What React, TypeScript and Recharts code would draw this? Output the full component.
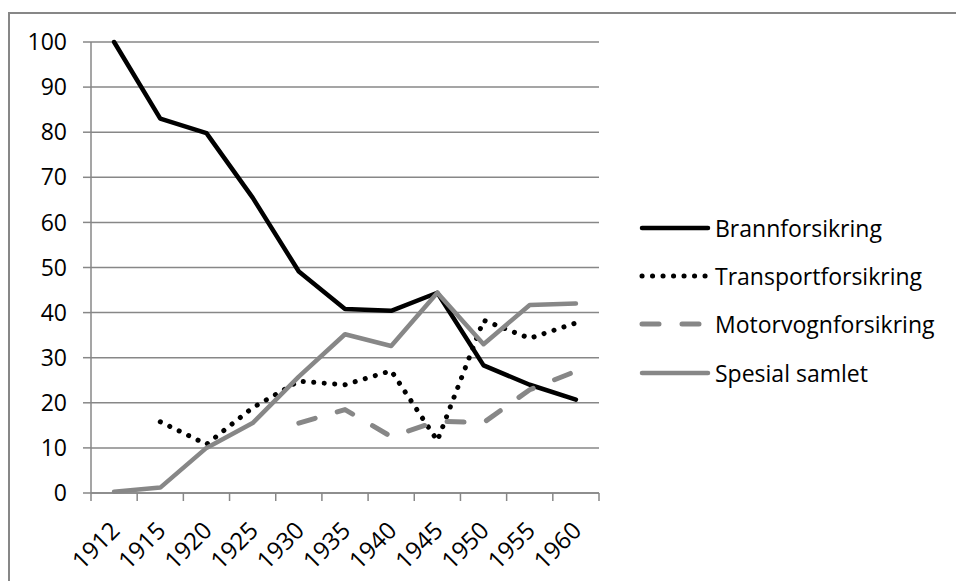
import React from "react";
import { LineChart, Line, XAxis, YAxis, CartesianGrid } from "recharts";

// Categories and series
const YEARS = ["1912", "1915", "1920", "1925", "1930", "1935", "1940", "1945", "1950", "1955", "1960"];
const BRANN = [100, 83, 79.8, 65.5, 49.1, 40.8, 40.4, 44.4, 28.3, 24, 20.7];
const TRANSPORT = [null, 15.8, 10.8, 18.9, 24.8, 24.0, 27.1, 11.6, 38.3, 34.3, 37.7];
const MOTOR = [null, null, null, null, 15.5, 18.5, 12.5, 15.9, 15.6, 22.9, 27.0];
const SPESIAL = [0.3, 1.2, 10, 15.5, 25.8, 35.2, 32.6, 44.4, 33, 41.7, 42];
const Y_TICKS = [0, 10, 20, 30, 40, 50, 60, 70, 80, 90, 100];

const data = YEARS.map((year, i) => ({
  year,
  brann: BRANN[i],
  transport: TRANSPORT[i],
  motor: MOTOR[i],
  spesial: SPESIAL[i],
}));

const FONT = "'Open Sans', sans-serif";
const GRID = "#878787";
const GREY = "#878787";

const W = 956;
const H = 581;
const MARGIN = { top: 42, right: 357, bottom: 8, left: 0 };
const Y_AXIS_W = 91;
const X_AXIS_H = 80;
const PLOT_LEFT = MARGIN.left + Y_AXIS_W;
const PLOT_RIGHT = W - MARGIN.right;
const PLOT_BOTTOM = H - MARGIN.bottom - X_AXIS_H;
const BAND = (PLOT_RIGHT - PLOT_LEFT) / YEARS.length;

const SERIES = [
  { key: "brann", name: "Brannforsikring", color: "#000", width: 4.5, dash: undefined as string | undefined },
  { key: "transport", name: "Transportforsikring", color: "#000", width: 5, dash: "0.1 10.4" },
  { key: "motor", name: "Motorvognforsikring", color: GREY, width: 5, dash: "17 23" },
  { key: "spesial", name: "Spesial samlet", color: GREY, width: 4.5, dash: undefined },
];

// Category ticks sit on the band boundaries; labels are rotated under the band centre
const XTick = (props: any) => {
  const { x, payload } = props;
  const half = BAND / 2;
  const isLast = payload.value === YEARS[YEARS.length - 1];
  const tx = x + 7;
  const ty = PLOT_BOTTOM + 39;
  return (
    <g>
      <line x1={x - half} x2={x - half} y1={PLOT_BOTTOM} y2={PLOT_BOTTOM + 8} stroke={GRID} strokeWidth={1.5} />
      {isLast && (
        <line x1={x + half} x2={x + half} y1={PLOT_BOTTOM} y2={PLOT_BOTTOM + 8} stroke={GRID} strokeWidth={1.5} />
      )}
      <text
        x={tx}
        y={ty}
        transform={`rotate(-45, ${tx}, ${ty})`}
        textAnchor="end"
        fill="#000"
        fontSize={24}
        fontFamily={FONT}
      >
        {payload.value}
      </text>
    </g>
  );
};

const LegendBox = () => (
  <div style={{ position: "absolute", left: 639, top: 204, fontFamily: FONT, fontSize: 23, color: "#000" }}>
    {SERIES.map((s) => (
      <div key={s.key} style={{ height: 48.2, display: "flex", alignItems: "center" }}>
        <svg width={76} height={12} style={{ display: "block" }}>
          <line
            x1={3}
            x2={69}
            y1={6}
            y2={6}
            stroke={s.color}
            strokeWidth={s.width}
            strokeDasharray={s.dash}
            strokeLinecap="round"
          />
        </svg>
        <span style={{ lineHeight: "24px", whiteSpace: "nowrap" }}>{s.name}</span>
      </div>
    ))}
  </div>
);

export default function App() {
  return (
    <div style={{ position: "absolute", left: 0, top: 0, width: W, height: H, background: "#fff", fontFamily: FONT }}>
      <div
        style={{
          position: "absolute",
          left: 8,
          top: 12,
          width: W - 8,
          height: H - 12,
          borderTop: `2px solid ${GRID}`,
          borderLeft: `2px solid ${GRID}`,
          boxSizing: "border-box",
        }}
      />
      <LineChart width={W} height={H} data={data} margin={MARGIN}>
        <CartesianGrid vertical={false} stroke={GRID} strokeWidth={1.5} />
        <XAxis
          dataKey="year"
          height={X_AXIS_H}
          interval={0}
          padding={{ left: BAND / 2, right: BAND / 2 }}
          tickLine={false}
          axisLine={{ stroke: GRID, strokeWidth: 1.5 }}
          tick={<XTick />}
        />
        <YAxis
          width={Y_AXIS_W}
          domain={[0, 100]}
          ticks={Y_TICKS}
          interval={0}
          tickSize={8}
          tickMargin={16}
          tickLine={{ stroke: GRID, strokeWidth: 1.5 }}
          axisLine={{ stroke: GRID, strokeWidth: 1.5 }}
          tick={{ fill: "#000", fontSize: 23, fontFamily: FONT }}
        />
        {SERIES.map((s) => (
          <Line
            key={s.key}
            type="linear"
            dataKey={s.key}
            name={s.name}
            stroke={s.color}
            strokeWidth={s.width}
            strokeDasharray={s.dash}
            strokeLinecap="round"
            strokeLinejoin="round"
            dot={false}
            activeDot={false}
            isAnimationActive={false}
          />
        ))}
      </LineChart>
      <LegendBox />
    </div>
  );
}
